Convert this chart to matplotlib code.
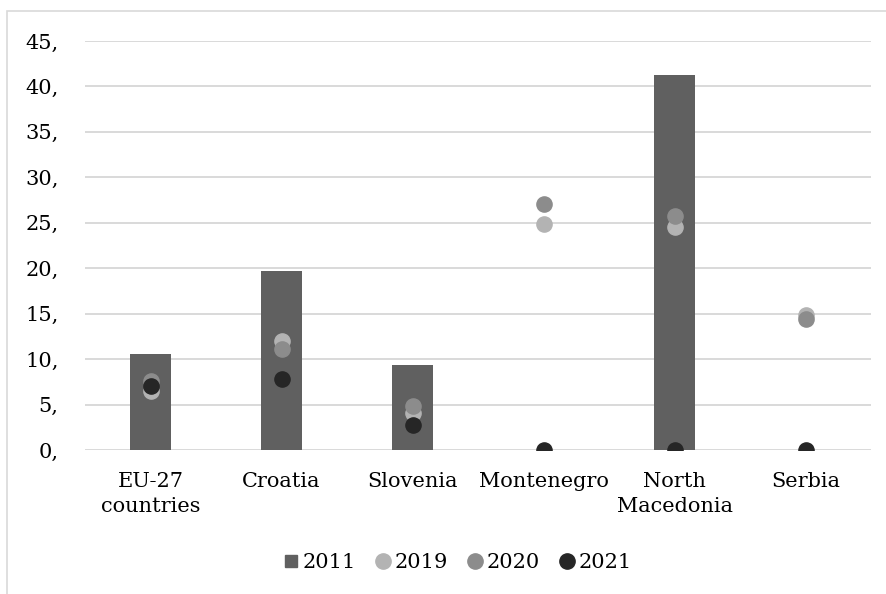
import numpy as np
import matplotlib.pyplot as plt
from matplotlib.patches import Rectangle
from matplotlib.lines import Line2D

# Data
countries = ['EU-27\ncountries', 'Croatia', 'Slovenia', 'Montenegro', 'North\nMacedonia', 'Serbia']
v2011 = [10.6, 19.7, 9.3, 0, 41.3, 0]
v2019 = [6.5, 12.0, 4.1, 24.9, 24.5, 14.8]
v2020 = [7.6, 11.1, 4.8, 27.1, 25.8, 14.4]
v2021 = [7.0, 7.8, 2.8, 0, 0, 0]
yticks = np.arange(0, 50, 5)

plt.rcParams['font.family'] = ['DejaVu Serif']

fig = plt.figure(figsize=(8.86, 5.94), dpi=100)
ax = fig.add_axes([85 / 886, 1 - 450 / 594, 786 / 886, 409 / 594])

# outer chart border
fig.patches.append(Rectangle((7 / 886, -0.1), 1.5, 1 - 11 / 594 + 0.1, transform=fig.transFigure,
                             fill=False, edgecolor='#d9d9d9', lw=1.2))

x = np.arange(len(countries))
ax.bar(x, v2011, width=0.31, color='#606060', zorder=2)
ax.scatter(x, v2019, s=120, color='#b3b3b3', zorder=3)
ax.scatter(x, v2020, s=120, color='#8c8c8c', zorder=4)
ax.scatter(x, v2021, s=120, color='#262626', zorder=5)

ax.set_xlim(-0.5, len(countries) - 0.5)
ax.set_ylim(0, 45)
ax.set_yticks(yticks)
ax.set_yticklabels([f'{v},' for v in yticks])
ax.set_xticks(x)
ax.set_xticklabels(countries, linespacing=1.4)
ax.tick_params(axis='y', length=0, pad=19, labelsize=15, colors='#000000')
ax.tick_params(axis='x', length=0, pad=16, labelsize=15)
ax.grid(axis='y', color='#d9d9d9', lw=1.4, zorder=0)
ax.set_axisbelow(True)
for s in ax.spines.values():
    s.set_visible(False)

# Legend
handles = [
    Line2D([], [], marker='s', ls='none', color='#606060', markersize=9),
    Line2D([], [], marker='o', ls='none', color='#b3b3b3', markersize=11),
    Line2D([], [], marker='o', ls='none', color='#8c8c8c', markersize=11),
    Line2D([], [], marker='o', ls='none', color='#262626', markersize=11),
]
fig.legend(handles, ['2011', '2019', '2020', '2021'], loc='center',
           bbox_to_anchor=(457 / 886, 1 - 563 / 594), ncol=4, frameon=False,
           fontsize=15, handlelength=0.8, handletextpad=0.15, columnspacing=0.9)

plt.savefig('out.png', dpi=100)
